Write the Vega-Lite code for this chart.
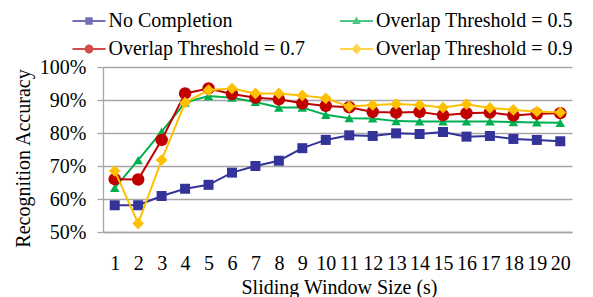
{
  "$schema": "https://vega.github.io/schema/vega-lite/v6.json",
  "width": 469,
  "height": 165,
  "autosize": {"type": "none"},
  "padding": {"left": 103, "top": 67, "right": 21, "bottom": 65},
  "config": {
    "font": "Liberation Serif",
    "view": {"stroke": null},
    "style": {"guide-label": {"font": "Liberation Serif"}, "guide-title": {"font": "Liberation Serif"}},
    "legend": {"labelFont": "Liberation Serif", "labelFontSize": 20, "labelColor": "#000000"},
    "axis": {
      "labelFont": "Liberation Serif",
      "titleFont": "Liberation Serif",
      "labelColor": "#000000",
      "titleColor": "#000000",
      "labelFontSize": 20,
      "titleFontSize": 20,
      "titleFontWeight": "normal",
      "domainColor": "#a6a6a6",
      "domainWidth": 1.3,
      "gridColor": "#a6a6a6",
      "gridWidth": 1.3,
      "tickColor": "#a6a6a6",
      "tickWidth": 1.3
    }
  },
  "data": {
    "values": [
      {"s": "No Completion", "x": 1, "v": 0.581},
      {"s": "No Completion", "x": 2, "v": 0.581},
      {"s": "No Completion", "x": 3, "v": 0.609},
      {"s": "No Completion", "x": 4, "v": 0.631},
      {"s": "No Completion", "x": 5, "v": 0.643},
      {"s": "No Completion", "x": 6, "v": 0.680},
      {"s": "No Completion", "x": 7, "v": 0.700},
      {"s": "No Completion", "x": 8, "v": 0.716},
      {"s": "No Completion", "x": 9, "v": 0.754},
      {"s": "No Completion", "x": 10, "v": 0.779},
      {"s": "No Completion", "x": 11, "v": 0.793},
      {"s": "No Completion", "x": 12, "v": 0.791},
      {"s": "No Completion", "x": 13, "v": 0.799},
      {"s": "No Completion", "x": 14, "v": 0.797},
      {"s": "No Completion", "x": 15, "v": 0.803},
      {"s": "No Completion", "x": 16, "v": 0.789},
      {"s": "No Completion", "x": 17, "v": 0.791},
      {"s": "No Completion", "x": 18, "v": 0.782},
      {"s": "No Completion", "x": 19, "v": 0.779},
      {"s": "No Completion", "x": 20, "v": 0.775},
      {"s": "Overlap Threshold = 0.5", "x": 1, "v": 0.634},
      {"s": "Overlap Threshold = 0.5", "x": 2, "v": 0.718},
      {"s": "Overlap Threshold = 0.5", "x": 3, "v": 0.804},
      {"s": "Overlap Threshold = 0.5", "x": 4, "v": 0.892},
      {"s": "Overlap Threshold = 0.5", "x": 5, "v": 0.912},
      {"s": "Overlap Threshold = 0.5", "x": 6, "v": 0.907},
      {"s": "Overlap Threshold = 0.5", "x": 7, "v": 0.894},
      {"s": "Overlap Threshold = 0.5", "x": 8, "v": 0.877},
      {"s": "Overlap Threshold = 0.5", "x": 9, "v": 0.877},
      {"s": "Overlap Threshold = 0.5", "x": 10, "v": 0.855},
      {"s": "Overlap Threshold = 0.5", "x": 11, "v": 0.845},
      {"s": "Overlap Threshold = 0.5", "x": 12, "v": 0.844},
      {"s": "Overlap Threshold = 0.5", "x": 13, "v": 0.836},
      {"s": "Overlap Threshold = 0.5", "x": 14, "v": 0.835},
      {"s": "Overlap Threshold = 0.5", "x": 15, "v": 0.835},
      {"s": "Overlap Threshold = 0.5", "x": 16, "v": 0.835},
      {"s": "Overlap Threshold = 0.5", "x": 17, "v": 0.835},
      {"s": "Overlap Threshold = 0.5", "x": 18, "v": 0.833},
      {"s": "Overlap Threshold = 0.5", "x": 19, "v": 0.832},
      {"s": "Overlap Threshold = 0.5", "x": 20, "v": 0.831},
      {"s": "Overlap Threshold = 0.7", "x": 1, "v": 0.660},
      {"s": "Overlap Threshold = 0.7", "x": 2, "v": 0.659},
      {"s": "Overlap Threshold = 0.7", "x": 3, "v": 0.779},
      {"s": "Overlap Threshold = 0.7", "x": 4, "v": 0.920},
      {"s": "Overlap Threshold = 0.7", "x": 5, "v": 0.935},
      {"s": "Overlap Threshold = 0.7", "x": 6, "v": 0.918},
      {"s": "Overlap Threshold = 0.7", "x": 7, "v": 0.907},
      {"s": "Overlap Threshold = 0.7", "x": 8, "v": 0.902},
      {"s": "Overlap Threshold = 0.7", "x": 9, "v": 0.890},
      {"s": "Overlap Threshold = 0.7", "x": 10, "v": 0.882},
      {"s": "Overlap Threshold = 0.7", "x": 11, "v": 0.878},
      {"s": "Overlap Threshold = 0.7", "x": 12, "v": 0.864},
      {"s": "Overlap Threshold = 0.7", "x": 13, "v": 0.862},
      {"s": "Overlap Threshold = 0.7", "x": 14, "v": 0.864},
      {"s": "Overlap Threshold = 0.7", "x": 15, "v": 0.854},
      {"s": "Overlap Threshold = 0.7", "x": 16, "v": 0.860},
      {"s": "Overlap Threshold = 0.7", "x": 17, "v": 0.862},
      {"s": "Overlap Threshold = 0.7", "x": 18, "v": 0.853},
      {"s": "Overlap Threshold = 0.7", "x": 19, "v": 0.858},
      {"s": "Overlap Threshold = 0.7", "x": 20, "v": 0.860},
      {"s": "Overlap Threshold = 0.9", "x": 1, "v": 0.685},
      {"s": "Overlap Threshold = 0.9", "x": 2, "v": 0.526},
      {"s": "Overlap Threshold = 0.9", "x": 3, "v": 0.718},
      {"s": "Overlap Threshold = 0.9", "x": 4, "v": 0.892},
      {"s": "Overlap Threshold = 0.9", "x": 5, "v": 0.930},
      {"s": "Overlap Threshold = 0.9", "x": 6, "v": 0.935},
      {"s": "Overlap Threshold = 0.9", "x": 7, "v": 0.920},
      {"s": "Overlap Threshold = 0.9", "x": 8, "v": 0.920},
      {"s": "Overlap Threshold = 0.9", "x": 9, "v": 0.914},
      {"s": "Overlap Threshold = 0.9", "x": 10, "v": 0.905},
      {"s": "Overlap Threshold = 0.9", "x": 11, "v": 0.880},
      {"s": "Overlap Threshold = 0.9", "x": 12, "v": 0.885},
      {"s": "Overlap Threshold = 0.9", "x": 13, "v": 0.888},
      {"s": "Overlap Threshold = 0.9", "x": 14, "v": 0.885},
      {"s": "Overlap Threshold = 0.9", "x": 15, "v": 0.877},
      {"s": "Overlap Threshold = 0.9", "x": 16, "v": 0.887},
      {"s": "Overlap Threshold = 0.9", "x": 17, "v": 0.876},
      {"s": "Overlap Threshold = 0.9", "x": 18, "v": 0.870},
      {"s": "Overlap Threshold = 0.9", "x": 19, "v": 0.865},
      {"s": "Overlap Threshold = 0.9", "x": 20, "v": 0.862}
    ]
  },
  "encoding": {
    "x": {
      "field": "x",
      "type": "ordinal",
      "sort": null,
      "axis": {
        "title": "Sliding Window Size (s)",
        "labelAngle": 0,
        "ticks": false,
        "tickSize": 0,
        "labelPadding": 37,
        "labelBaseline": "alphabetic",
        "titleX": 236,
        "titleY": 61,
        "titleBaseline": "alphabetic",
        "titleAlign": "center",
        "grid": false
      }
    },
    "y": {
      "field": "v",
      "type": "quantitative",
      "scale": {"domain": [0.5, 1], "nice": false, "zero": false},
      "axis": {
        "values": [0.5, 0.6, 0.7, 0.8, 0.9, 1.0],
        "format": ".0%",
        "title": "Recognition Accuracy",
        "titleX": -74,
        "titleY": 91,
        "titleAngle": -90,
        "titleBaseline": "alphabetic",
        "titleAlign": "center",
        "labelPadding": 11,
        "tickSize": 6,
        "grid": true
      }
    }
  },
  "layer": [
    {
      "transform": [{"filter": "datum.s === 'No Completion'"}],
      "mark": {"type": "line", "strokeWidth": 2, "color": "#333399",
        "point": {"filled": true, "shape": "square", "size": 100, "color": "#333399", "strokeWidth": 0}}
    },
    {
      "transform": [{"filter": "datum.s === 'Overlap Threshold = 0.5'"}],
      "mark": {"type": "line", "strokeWidth": 2, "color": "#00B050",
        "point": {"filled": true, "shape": "triangle-up", "size": 90, "color": "#00B050", "strokeWidth": 0}}
    },
    {
      "transform": [{"filter": "datum.s === 'Overlap Threshold = 0.7'"}],
      "mark": {"type": "line", "strokeWidth": 2, "color": "#C00000",
        "point": {"filled": true, "shape": "circle", "size": 156, "color": "#C00000", "strokeWidth": 0}}
    },
    {
      "transform": [{"filter": "datum.s === 'Overlap Threshold = 0.9'"}],
      "mark": {"type": "line", "strokeWidth": 2, "color": "#FFC000",
        "point": {"filled": true, "shape": "diamond", "size": 135, "color": "#FFC000", "strokeWidth": 0}}
    },
    {
      "mark": {"type": "point", "filled": true, "clip": true},
      "encoding": {
        "y": {"datum": 0.2},
        "color": {
          "field": "s",
          "type": "nominal",
          "scale": {
            "domain": ["No Completion", "Overlap Threshold = 0.5", "Overlap Threshold = 0.7", "Overlap Threshold = 0.9"],
            "range": ["#333399", "#00B050", "#C00000", "#FFC000"]
          }
        },
        "shape": {
          "field": "s",
          "type": "nominal",
          "scale": {
            "domain": ["No Completion", "Overlap Threshold = 0.5", "Overlap Threshold = 0.7", "Overlap Threshold = 0.9"],
            "range": [
              "M-2.75,-0.17L2.75,-0.17L2.75,0.17L-2.75,0.17ZM-0.62,-0.62L0.62,-0.62L0.62,0.62L-0.62,0.62Z",
              "M-2.75,-0.17L2.75,-0.17L2.75,0.17L-2.75,0.17ZM0,-0.75L0.72,0.5L-0.72,0.5Z",
              "M-2.75,-0.17L2.75,-0.17L2.75,0.17L-2.75,0.17ZM0,-0.78L0.55,-0.55L0.78,0L0.55,0.55L0,0.78L-0.55,0.55L-0.78,0L-0.55,-0.55Z",
              "M-2.75,-0.17L2.75,-0.17L2.75,0.17L-2.75,0.17ZM0,-0.88L0.88,0L0,0.88L-0.88,0Z"
            ]
          },
          "legend": {
            "orient": "none",
            "direction": "horizontal",
            "legendX": -24,
            "legendY": -56,
            "columns": 2,
            "title": null,
            "symbolSize": 144,
            "symbolOpacity": 1,
            "labelFont": "Liberation Serif",
            "labelFontSize": 20,
            "labelColor": "#000000",
            "labelOffset": 9.5,
            "labelLimit": 400,
            "columnPadding": 33.5,
            "rowPadding": 8,
            "padding": 0
          }
        }
      }
    }
  ]
}
